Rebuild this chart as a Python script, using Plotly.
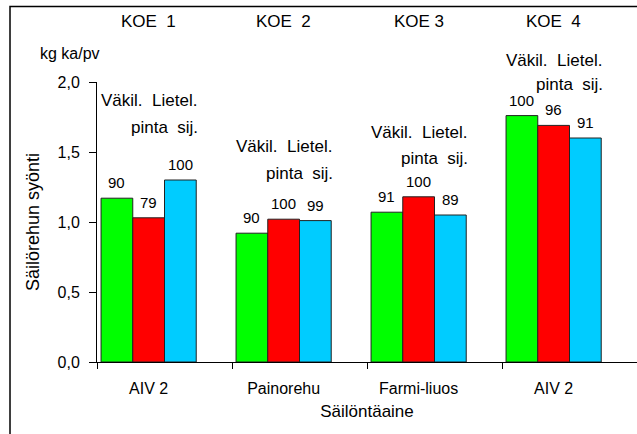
import plotly.graph_objects as go

# ---- data ----
categories = ["AIV 2", "Painorehu", "Farmi-liuos", "AIV 2"]
experiments = ["KOE  1", "KOE  2", "KOE 3", "KOE  4"]
series_names = ["Väkil.", "Lietel. pinta", "Lietel. sij."]
vakil = [1.17, 0.92, 1.07, 1.76]
lietel_pinta = [1.03, 1.02, 1.18, 1.69]
lietel_sij = [1.30, 1.01, 1.05, 1.60]
rel_vakil = [90, 90, 91, 100]
rel_pinta = [79, 100, 100, 96]
rel_sij = [100, 99, 89, 91]
y_ticks = [0.0, 0.5, 1.0, 1.5, 2.0]

# ---- layout helpers (positions/styles) ----
colors = ["#00FF00", "#FF0000", "#00CCFF"]
bar_w = 0.235
start = 0.03
header_y1 = [0.935, 0.771, 0.818, 1.078]   # paper fractions
header_y2 = [0.839, 0.675, 0.728, 0.992]
FONT = "Liberation Sans, Arial, sans-serif"

series_vals = [vakil, lietel_pinta, lietel_sij]
series_rel = [rel_vakil, rel_pinta, rel_sij]
n = len(categories)

fig = go.Figure()
for k, (vals, name, col) in enumerate(zip(series_vals, series_names, colors)):
    xs = [i + start + bar_w * (k + 0.5) for i in range(n)]
    fig.add_trace(go.Bar(
        x=xs, y=vals, width=bar_w, name=name,
        marker=dict(color=col, line=dict(color="#222222", width=1)),
        showlegend=False, hoverinfo="y",
    ))

annotations = []
for k in range(3):
    for i in range(n):
        xc = i + start + bar_w * (k + 0.5)
        annotations.append(dict(
            x=xc, y=series_vals[k][i], xref="x", yref="y",
            text=str(series_rel[k][i]), showarrow=False,
            yanchor="bottom", yshift=5,
            font=dict(size=15, color="black", family=FONT)))

group_c = [i + start + bar_w * 1.5 for i in range(n)]
group_r = [i + start + bar_w * 3 for i in range(n)]
for i in range(n):
    annotations.append(dict(
        x=group_c[i], y=header_y1[i], xref="x", yref="paper",
        text="Väkil.  Lietel.", showarrow=False, xanchor="center",
        yanchor="middle", font=dict(size=17, color="black", family=FONT)))
    annotations.append(dict(
        x=group_r[i], y=header_y2[i], xref="x", yref="paper",
        text="pinta  sij.", showarrow=False, xanchor="right",
        yanchor="middle", xshift=4,
        font=dict(size=17, color="black", family=FONT)))
    annotations.append(dict(
        x=group_c[i], y=1.0, xref="x", yref="paper", yshift=61,
        text=experiments[i], showarrow=False, xanchor="center",
        yanchor="middle", font=dict(size=17, color="black", family=FONT)))

annotations.append(dict(
    x=0, y=1, xref="paper", yref="paper", xshift=-27, yshift=29,
    text="kg ka/pv", showarrow=False, xanchor="center", yanchor="middle",
    font=dict(size=16, color="black", family=FONT)))

fig.update_layout(
    width=637, height=434,
    margin=dict(l=97, r=0, t=82, b=72),
    paper_bgcolor="white", plot_bgcolor="white",
    separators=", ",
    barmode="overlay",
    font=dict(family=FONT, size=16, color="black"),
    annotations=annotations,
    shapes=[dict(type="rect", xref="paper", yref="paper",
                 x0=-0.1611, x1=1.05, y0=-0.5, y1=1.2696,
                 line=dict(color="black", width=1.5))],
    xaxis=dict(
        range=[0, 4], showgrid=False, zeroline=False,
        showline=True, linecolor="black", linewidth=1,
        tickmode="array", tickvals=group_c, ticktext=categories,
        ticks="", ticklabelstandoff=12,
        tickfont=dict(size=16, family=FONT),
        minor=dict(tickmode="array", tickvals=[0, 1, 2, 3],
                   ticks="outside", ticklen=6, tickcolor="black", tickwidth=1),
        title=dict(text="Säilöntäaine", standoff=8,
                   font=dict(size=17, family=FONT)),
        fixedrange=True,
    ),
    yaxis=dict(
        range=[0, 2], showgrid=False, zeroline=False,
        showline=True, linecolor="black", linewidth=1,
        tickmode="array", tickvals=y_ticks, tickformat=".1f",
        ticks="outside", ticklen=7, tickcolor="black",
        ticklabelstandoff=6,
        tickfont=dict(size=16, family=FONT),
        title=dict(text="Säilörehun syönti", standoff=13,
                   font=dict(size=18, family=FONT)),
        fixedrange=True,
    ),
)

fig.write_html("out.html", config={"displayModeBar": False},
               post_script="document.body.style.margin='0';")
